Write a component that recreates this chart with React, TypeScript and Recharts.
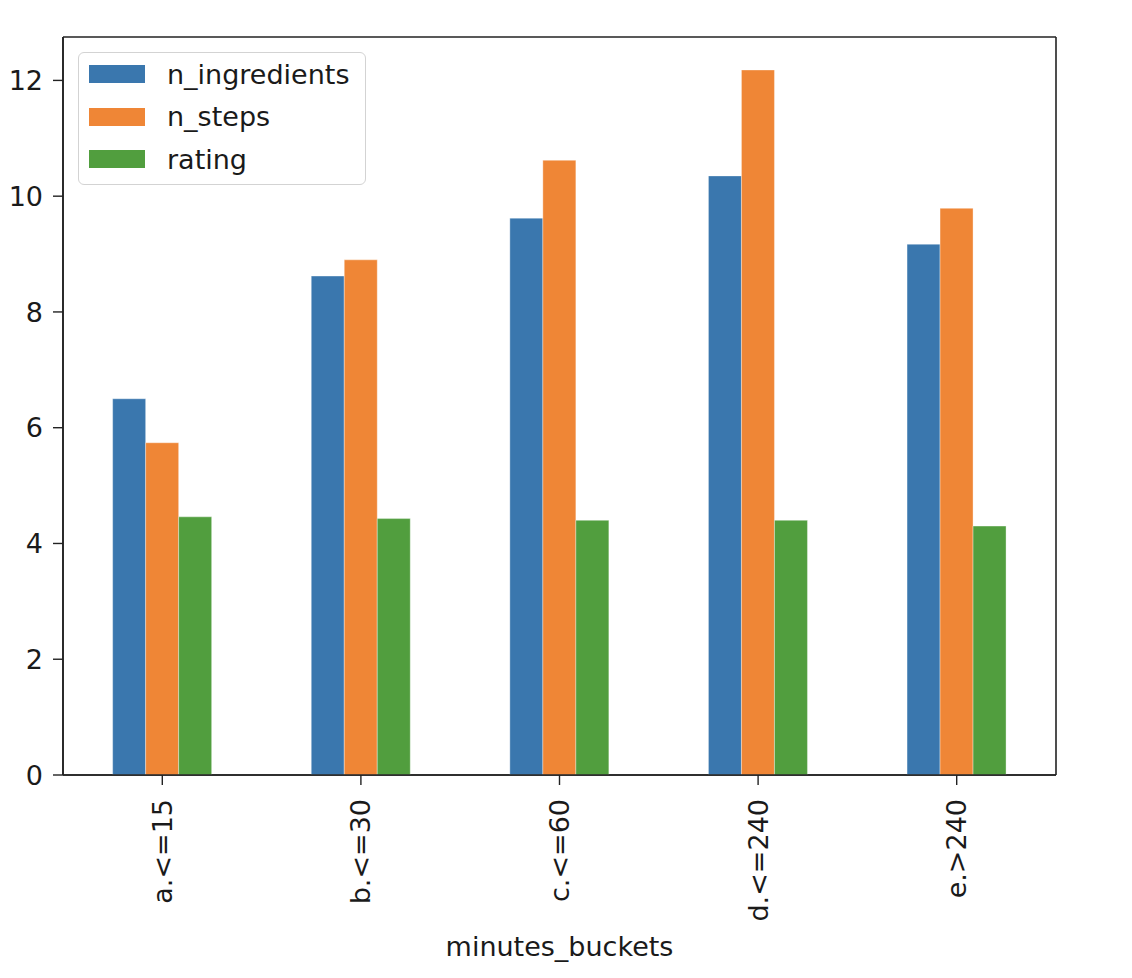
import React from 'react';
import { BarChart, Bar, XAxis, YAxis, CartesianGrid } from 'recharts';

const categories = ['a.<=15', 'b.<=30', 'c.<=60', 'd.<=240', 'e.>240'];
const nIngredients = [6.5, 8.62, 9.62, 10.35, 9.17];
const nSteps = [5.74, 8.9, 10.62, 12.18, 9.79];
const rating = [4.46, 4.43, 4.4, 4.4, 4.3];
const yTicks = [0, 2, 4, 6, 8, 10, 12];

const series = [
  { key: 'n_ingredients', color: '#3a77ae' },
  { key: 'n_steps', color: '#ef8636' },
  { key: 'rating', color: '#519e3e' },
];

const data = categories.map((c, i) => ({
  name: c,
  n_ingredients: nIngredients[i],
  n_steps: nSteps[i],
  rating: rating[i],
}));

const FONT = '"DejaVu Sans", sans-serif';
const FS = 27;
const INK = '#1a1a1a';

const XTick = (props: any) => {
  const { x, y, payload } = props;
  return (
    <g transform={`translate(${x},${y})`}>
      <text
        transform="rotate(-90)"
        textAnchor="end"
        dy="0.35em"
        fontFamily={FONT}
        fontSize={FS}
        fill={INK}
      >
        {payload.value}
      </text>
    </g>
  );
};

const LegendBox = () => (
  <div
    style={{
      position: 'absolute',
      left: 78,
      top: 52,
      width: 288,
      height: 133,
      border: '1.5px solid #d3d3d3',
      borderRadius: 6,
      background: 'rgba(255,255,255,0.8)',
      boxSizing: 'border-box',
      paddingTop: 0,
      fontFamily: FONT,
      fontSize: FS,
      color: INK,
    }}
  >
    {series.map((s) => (
      <div
        key={s.key}
        style={{ display: 'flex', alignItems: 'center', height: 42.5, paddingLeft: 10 }}
      >
        <div style={{ width: 56, height: 18, background: s.color, marginRight: 22, flexShrink: 0 }} />
        <span style={{ lineHeight: 1 }}>{s.key}</span>
      </div>
    ))}
  </div>
);

export default function App() {
  return (
    <div style={{ position: 'absolute', left: 0, top: 0, width: 1132, height: 978, background: '#fff' }}>
      <BarChart
        width={1132}
        height={978}
        data={data}
        margin={{ top: 37, right: 76, bottom: 0, left: 0 }}
        barCategoryGap="25%"
        barGap={0}
      >
        <CartesianGrid
          stroke="#222"
          strokeWidth={1.6}
          horizontalCoordinatesGenerator={({ offset }: any) => [offset.top, offset.top + offset.height]}
          verticalCoordinatesGenerator={({ offset }: any) => [offset.left, offset.left + offset.width]}
        />
        <XAxis
          dataKey="name"
          height={203}
          axisLine={{ stroke: '#222', strokeWidth: 1.6 }}
          tickLine={{ stroke: '#222', strokeWidth: 1.4 }}
          tickSize={10}
          tickMargin={14}
          tick={<XTick />}
          interval={0}
          label={{
            value: 'minutes_buckets',
            position: 'insideBottom',
            offset: 22,
            fontFamily: FONT,
            fontSize: FS,
            fill: INK,
          }}
        />
        <YAxis
          width={63}
          domain={[0, 12.75]}
          ticks={yTicks}
          allowDataOverflow
          axisLine={{ stroke: '#222', strokeWidth: 1.6 }}
          tickLine={{ stroke: '#222', strokeWidth: 1.4 }}
          tickSize={10}
          tickMargin={10}
          tick={{ fontFamily: FONT, fontSize: FS, fill: INK }}
        />
        {series.map((s) => (
          <Bar
            key={s.key}
            dataKey={s.key}
            fill={s.color}
            stroke="rgba(255,255,255,0.35)"
            strokeWidth={1}
            isAnimationActive={false}
          />
        ))}
      </BarChart>
      <LegendBox />
    </div>
  );
}
